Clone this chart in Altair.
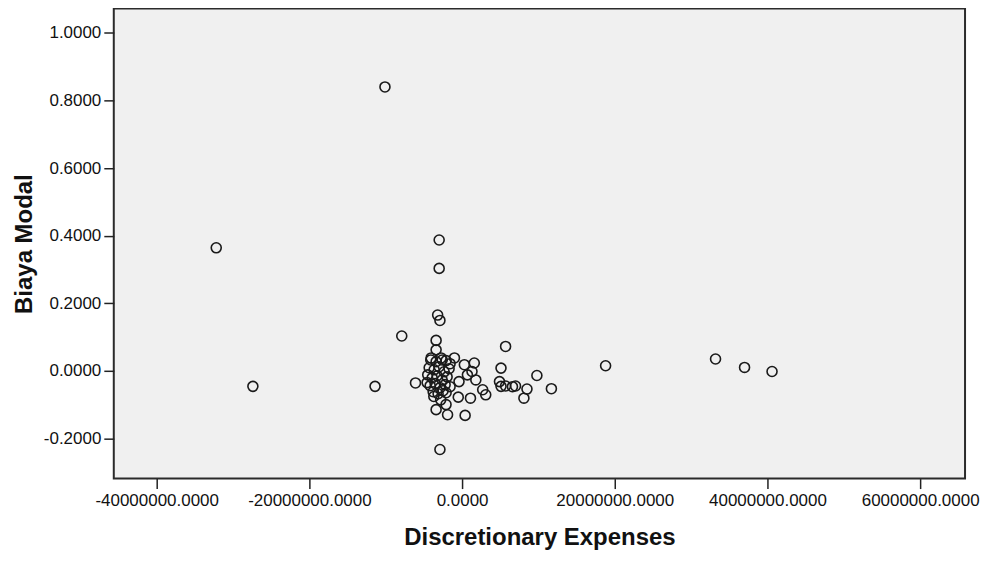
import altair as alt
import pandas as pd

# Discretionary Expenses (x) and Biaya Modal (y)
disc_exp = [
    -10100000, -32200000, -27400000, -11400000, -7900000, -6100000, -3000000, -3000000,
    5700000, 18800000, 33200000, 37000000, 40600000, 9800000, 11700000, 5100000,
    8100000, 8500000, 4900000, 5100000, 5700000, 6600000, 7000000, 3100000, 2700000,
    -3200000, -2900000, -3400000, -3400000, -1000000, 300000, 1600000, 1800000,
    1300000, -400000, 700000, -4500000, -4100000, -2600000, -3700000, -2800000,
    1100000, -500000, 400000, -1900000, -3400000, -2100000, -2900000,
    -4050000, -3400000, -2750000, -2090000, -1570000,
    -4310000, -3660000, -3010000, -2350000, -1700000,
    -3920000, -3270000, -2610000, -1960000,
    -4180000, -3530000, -2880000, -2220000, -1570000,
    -3790000, -3140000, -2480000,
    -4580000, -2090000,
]
biaya_modal = [
    0.840, 0.364, -0.046, -0.046, 0.103, -0.036, 0.387, 0.303,
    0.072, 0.015, 0.035, 0.010, -0.002, -0.014, -0.053, 0.008,
    -0.081, -0.054, -0.032, -0.046, -0.045, -0.047, -0.045, -0.071, -0.056,
    0.165, 0.149, 0.090, 0.062, 0.038, 0.018, 0.023, -0.027,
    -0.002, -0.032, -0.012, -0.012, 0.032, 0.032, -0.076, -0.086,
    -0.081, -0.078, -0.132, -0.130, -0.115, -0.100, -0.233,
    0.038, 0.027, 0.038, 0.030, 0.021,
    0.009, 0.003, 0.012, -0.003, 0.006,
    -0.021, -0.015, -0.027, -0.018,
    -0.044, -0.038, -0.050, -0.041, -0.047,
    -0.062, -0.068, -0.059,
    -0.035, -0.065,
]

x_ticks = [-40000000, -20000000, 0, 20000000, 40000000, 60000000]
y_ticks = [-0.2, 0.0, 0.2, 0.4, 0.6, 0.8, 1.0]

df = pd.DataFrame({"Discretionary Expenses": disc_exp, "Biaya Modal": biaya_modal})

FONT = "Liberation Sans"

chart = (
    alt.Chart(df)
    .mark_point(shape="circle", filled=False, size=100, strokeWidth=1.6, color="#1a1a1a", opacity=1)
    .encode(
        x=alt.X(
            "Discretionary Expenses:Q",
            scale=alt.Scale(domain=[-45620000, 65880000], nice=False, zero=False),
            axis=alt.Axis(
                values=x_ticks,
                labelExpr="replace(format(datum.value, '.4f'), '\u2212', '-')",
                grid=False,
                domain=False,
                tickSize=10,
                tickWidth=1.5,
                tickColor="#222",
                labelPadding=4,
                labelFontSize=17,
                labelFont=FONT,
                labelColor="#111",
                labelFlush=False,
                labelOverlap=False,
                title="Discretionary Expenses",
                titleFont=FONT,
                titleFontSize=24,
                titleFontWeight="bold",
                titleColor="#111",
                titleX=426.5,
                titleY=66,
                titleBaseline="alphabetic",
                titleAlign="center",
            ),
        ),
        y=alt.Y(
            "Biaya Modal:Q",
            scale=alt.Scale(domain=[-0.319, 1.072], nice=False, zero=False),
            axis=alt.Axis(
                values=y_ticks,
                labelExpr="replace(format(datum.value, '.4f'), '\u2212', '-')",
                grid=False,
                domain=False,
                tickSize=10,
                tickWidth=1.5,
                tickColor="#222",
                labelPadding=3,
                labelFontSize=17,
                labelFont=FONT,
                labelColor="#111",
                labelFlush=False,
                labelOverlap=False,
                title="Biaya Modal",
                titleFont=FONT,
                titleFontSize=24,
                titleFontWeight="bold",
                titleColor="#111",
                titleAngle=-90,
                titleX=-82,
                titleY=235.5,
                titleBaseline="alphabetic",
                titleAlign="center",
            ),
        ),
    )
    .properties(
        width=853,
        height=471,
        autosize=alt.AutoSizeParams(type="none"),
        padding={"left": 106, "top": 0, "right": 18, "bottom": 71},
        background="white",
    )
    .configure_view(fill="#f0f0f0", stroke="#2b2b2b", strokeWidth=2)
)

chart.save("out.html", embed_options={"renderer": "svg", "actions": False})
